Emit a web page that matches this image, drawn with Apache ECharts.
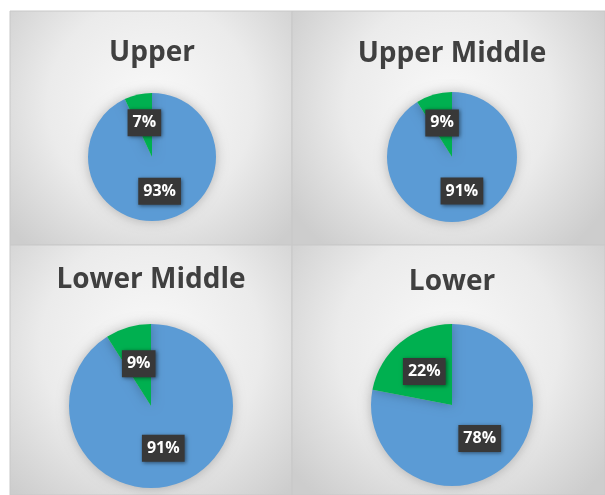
<!DOCTYPE html>
<html>
<head>
<meta charset="utf-8">
<script src="https://cdn.jsdelivr.net/npm/echarts@6/dist/echarts.min.js"></script>
<style>
  html, body { margin: 0; padding: 0; background: #fff; }
  #main { width: 605px; height: 495px; }
</style>
</head>
<body>
<div id="main"></div>
<script>
// data
var groups = ['Upper', 'Upper Middle', 'Lower Middle', 'Lower'];
var blueShare = [93, 91, 91, 78];
var greenShare = [7, 9, 9, 22];

// layout of the four panels (x, y, w, h) and pies
var panels = [[10, 11, 282, 234], [292, 11, 313, 234], [10, 245, 282, 250], [292, 245, 313, 250]];
var centers = [[152, 157], [452, 157], [151, 406], [452, 405]];
var radii = [64, 65, 82, 81];
var titleTops = [39, 40, 266, 268];

var myChart = echarts.init(document.getElementById('main'));

var bgs = panels.map(function (p) {
  return {
    type: 'rect',
    shape: { x: p[0], y: p[1], width: p[2], height: p[3] },
    style: {
      fill: new echarts.graphic.RadialGradient(0.5, 0.4, 0.8, [
        { offset: 0, color: '#f9f9f9' },
        { offset: 0.55, color: '#ebebeb' },
        { offset: 1, color: '#cdcdcd' }
      ]),
      stroke: '#c8c8c8',
      lineWidth: 1
    },
    z: -10
  };
});

var titles = groups.map(function (g, i) {
  return {
    text: g,
    left: centers[i][0],
    top: titleTops[i],
    textAlign: 'center',
    padding: 0,
    textStyle: {
      fontFamily: 'Open Sans',
      fontWeight: 'bold',
      fontSize: 28,
      color: '#404040'
    }
  };
});

var series = groups.map(function (g, i) {
  return {
    name: g,
    type: 'pie',
    center: centers[i],
    radius: radii[i],
    startAngle: 90,
    clockwise: true,
    silent: true,
    itemStyle: {
      shadowBlur: 12,
      shadowColor: 'rgba(0,0,0,0.25)'
    },
    label: {
      show: true,
      position: 'inside',
      formatter: '{c}%',
      fontFamily: 'Open Sans',
      fontWeight: 'bold',
      fontSize: 16,
      color: '#fff',
      backgroundColor: '#383838',
      padding: [6, 5, 5, 5],
      shadowBlur: 4,
      shadowColor: 'rgba(0,0,0,0.5)',
      shadowOffsetX: 1,
      shadowOffsetY: 1
    },
    labelLine: { show: false },
    data: [
      { name: 'blue', value: blueShare[i], itemStyle: { color: '#5b9bd5' } },
      { name: 'green', value: greenShare[i], itemStyle: { color: '#00b050' } }
    ]
  };
});

var option = {
  animation: false,
  backgroundColor: '#fff',
  graphic: bgs,
  title: titles,
  series: series
};

myChart.setOption(option);
</script>
</body>
</html>
